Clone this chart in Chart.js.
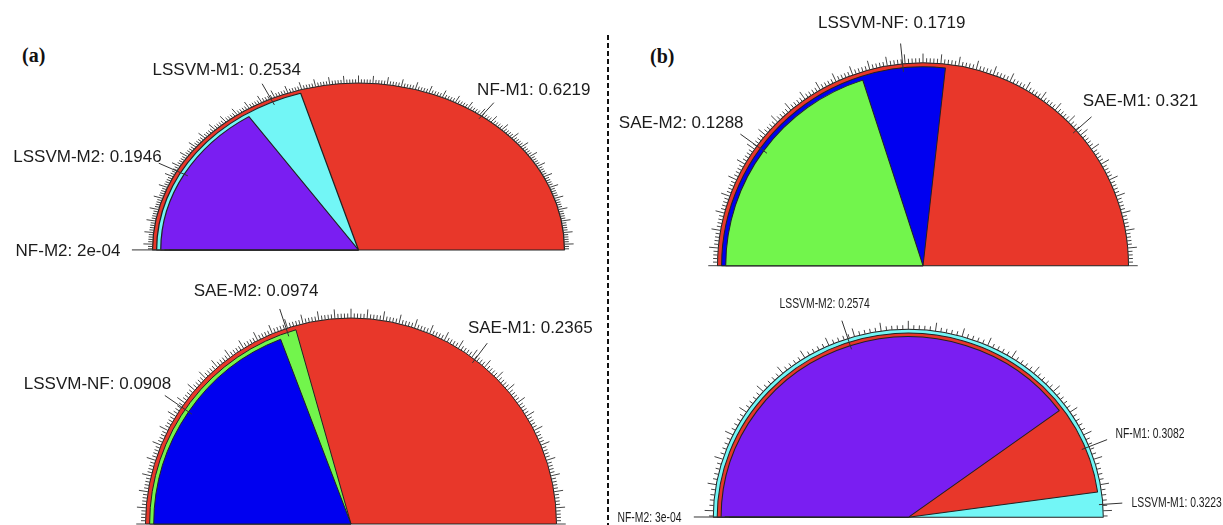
<!DOCTYPE html>
<html>
<head>
<meta charset="utf-8">
<script src="https://cdn.jsdelivr.net/npm/chart.js@4.4.0/dist/chart.umd.min.js"></script>
<style>
  html, body { margin: 0; padding: 0; background: #fff; }
  body { width: 1223px; height: 525px; position: relative; overflow: hidden; }
  canvas { position: absolute; }
  .tag { position: absolute; font: bold 20px 'Liberation Serif', 'Times New Roman', serif; color: #111; line-height: 24px; }
  .divider {
    position: absolute; left: 607px; top: 35px; width: 2px; height: 490px;
    background: repeating-linear-gradient(to bottom, #111 0 5px, transparent 5px 8px);
  }
</style>
</head>
<body>
<div class="tag" style="left:22px; top:43px">(a)</div>
<div class="tag" style="left:650px; top:44px">(b)</div>
<div class="divider"></div>
<canvas id="fanA1" width="607" height="268" style="left:0px; top:0px"></canvas>
<canvas id="fanA2" width="607" height="257" style="left:0px; top:268px"></canvas>
<canvas id="fanB1" width="611" height="285" style="left:612px; top:0px"></canvas>
<canvas id="fanB2" width="611" height="240" style="left:612px; top:285px"></canvas>

<script>
'use strict';

// ── Data ──────────────────────────────────────────────────────
// (a) upper fan
const A1_LABELS = ['NF-M1', 'LSSVM-M1', 'LSSVM-M2', 'NF-M2'];
const A1_VALUES = [0.6219, 0.2534, 0.1946, 0.0002];
// (a) lower fan
const A2_LABELS = ['SAE-M1', 'SAE-M2', 'LSSVM-NF'];
const A2_VALUES = [0.2365, 0.0974, 0.0908];
// (b) upper fan
const B1_LABELS = ['SAE-M1', 'LSSVM-NF', 'SAE-M2'];
const B1_VALUES = [0.321, 0.1719, 0.1288];
// (b) lower fan
const B2_LABELS = ['LSSVM-M1', 'NF-M1', 'LSSVM-M2', 'NF-M2'];
const B2_VALUES = [0.3223, 0.3082, 0.2574, 0.0003];

// ── Colours ───────────────────────────────────────────────────
const COL = {
  red:    '#e8372a',
  cyan:   '#72f6f6',
  purple: '#7a1ef2',
  blue:   '#0000f0',
  green:  '#72f54c',
  dark:   '#2a7a2a',
  edge:   '#222222',
  ink:    '#1c1c1c',
  tick:   '#444444',
};
const A1_COLORS = [COL.red, COL.cyan, COL.purple, COL.dark];
const A2_COLORS = [COL.red, COL.green, COL.blue];
const B1_COLORS = [COL.red, COL.blue, COL.green];
const B2_COLORS = [COL.cyan, COL.red, COL.purple, COL.dark];

const SHRINK = 0.02;   // each smaller sector is drawn 2% smaller

// ── Layout (page pixels) ──────────────────────────────────────
const PANELS = [
  { id: 'fanA1', labels: A1_LABELS, values: A1_VALUES, colors: A1_COLORS,
    box: [0, 0, 607, 268], cx: 358.5, cy: 250, rx: 206, ry: 167,
    tickStep: 0.8, font: 17, textScale: 1,
    textAt: [[533.8, 90.3], [226.7, 70.5], [87.5, 157.5], [68, 251]] },
  { id: 'fanA2', labels: A2_LABELS, values: A2_VALUES, colors: A2_COLORS,
    box: [0, 268, 607, 257], cx: 351, cy: 524, rx: 205.5, ry: 206,
    tickStep: 0.9, font: 17, textScale: 1,
    textAt: [[530.3, 327.9], [256, 291.2], [97.5, 384.2]] },
  { id: 'fanB1', labels: B1_LABELS, values: B1_VALUES, colors: B1_COLORS,
    box: [612, 0, 611, 285], cx: 923, cy: 265.7, rx: 205.5, ry: 203,
    tickStep: 1.0, font: 17, textScale: 1,
    textAt: [[1140.5, 101.7], [891.7, 23], [681.2, 123]] },
  { id: 'fanB2', labels: B2_LABELS, values: B2_VALUES, colors: B2_COLORS,
    box: [612, 285, 611, 240], cx: 908.3, cy: 517.3, rx: 195, ry: 188,
    tickStep: 1.6, font: 15, textScale: 0.69,
    textAt: [[1176.7, 502.5], [1150, 434.2], [824.7, 304.2], [649.5, 518]] },
];

// R-style number text: 0.0002 -> "2e-04"
function fmtValue(v) {
  if (v >= 0.001) return String(v);
  const [m, e] = v.toExponential(0).split('e');
  const sign = e[0] === '-' ? '-' : '+';
  return m + 'e' + sign + e.replace(/^[-+]/, '').padStart(2, '0');
}

// ── Fan decorations: radii, ellipse stretch, ticks, leaders, labels ──
function fanPlugin(p, rank, midAngle) {
  const sx = p.rx / p.ry;
  let ox = 0, oy = 0;
  const pt = (deg, r) => {
    const a = deg * Math.PI / 180;
    return [ox + p.rx * r * Math.cos(a), oy - p.ry * r * Math.sin(a)];
  };
  return {
    id: 'fanDecor',
    beforeDatasetsDraw(chart) {
      const ctx = chart.ctx;
      const first = chart.getDatasetMeta(0).data[0];
      ox = first.x; oy = first.y;
      // every sector is a full wedge from the centre, shrinking with its rank
      chart.data.datasets.forEach((ds, i) => {
        chart.getDatasetMeta(i).data.forEach(arc => {
          arc.innerRadius = 0;
          arc.outerRadius = p.ry * (1 - SHRINK * ds.rank);
        });
      });
      ctx.save();
      ctx.translate(ox, oy);
      ctx.scale(sx, 1);
      ctx.translate(-ox, -oy);
    },
    afterDatasetsDraw(chart) {
      const ctx = chart.ctx;
      ctx.restore();

      // ticks round the rim, every fifth one longer
      ctx.save();
      ctx.strokeStyle = COL.tick;
      ctx.lineWidth = 1;
      const n = Math.floor(90 / p.tickStep);
      for (let k = -n; k <= n; k++) {
        const a = 90 + k * p.tickStep;
        const [x1, y1] = pt(a, 1.0);
        const [x2, y2] = pt(a, k % 5 === 0 ? 1.045 : 1.022);
        ctx.beginPath();
        ctx.moveTo(x1, y1);
        ctx.lineTo(x2, y2);
        ctx.stroke();
      }

      // leader lines at the middle of each visible part
      ctx.strokeStyle = '#333';
      p.values.forEach((v, i) => {
        const [x1, y1] = pt(midAngle[i], 1 - SHRINK * rank[i] - 0.02);
        const [x2, y2] = pt(midAngle[i], 1.1);
        ctx.beginPath();
        ctx.moveTo(x1, y1);
        ctx.lineTo(x2, y2);
        ctx.stroke();
      });

      // labels
      ctx.fillStyle = COL.ink;
      ctx.font = `${p.font}px "Liberation Sans", Arial, sans-serif`;
      ctx.textAlign = 'center';
      ctx.textBaseline = 'middle';
      p.values.forEach((v, i) => {
        const tx = p.textAt[i][0] - p.box[0];
        const ty = p.textAt[i][1] - p.box[1];
        ctx.save();
        ctx.translate(tx, ty);
        ctx.scale(p.textScale, 1);
        ctx.fillText(`${p.labels[i]}: ${fmtValue(v)}`, 0, 0);
        ctx.restore();
      });
      ctx.restore();
    },
  };
}

function buildFan(p) {
  const [left, top, w, h] = p.box;
  const vmax = Math.max(...p.values);
  const span = p.values.map(v => v / vmax * 180);

  // rank 0 = largest sector (full radius)
  const order = p.values.map((_, i) => i).sort((a, b) => p.values[b] - p.values[a]);
  const rank = [];
  order.forEach((idx, r) => { rank[idx] = r; });

  // sectors start at the left end; the visible part of each ends where the next smaller begins
  const midAngle = p.values.map((_, i) => {
    const next = order[rank[i] + 1];
    const from = 180 - span[i];
    const to = next === undefined ? 180 : 180 - span[next];
    return (from + to) / 2;
  });

  // smallest first so Chart.js paints it last (on top)
  const datasets = order.slice().reverse().map(i => ({
    label: p.labels[i],
    data: [p.values[i]],
    backgroundColor: p.colors[i],
    borderColor: COL.edge,
    borderWidth: 1,
    rotation: -90,
    circumference: span[i],
    clip: false,
    rank: rank[i],
  }));

  // padding that puts the fan centre where it belongs
  const lcx = p.cx - left, lcy = p.cy - top;
  const dx = 2 * lcx - w;
  const dy = 2 * lcy - p.ry - h;
  const padding = {
    left: Math.max(dx, 0), right: Math.max(-dx, 0),
    top: Math.max(dy, 0), bottom: Math.max(-dy, 0),
  };

  return new Chart(document.getElementById(p.id), {
    type: 'doughnut',
    data: { labels: [''], datasets },
    options: {
      responsive: false,
      animation: false,
      radius: p.ry,
      cutout: 0,
      rotation: -90,
      circumference: 180,
      layout: { padding },
      plugins: { legend: { display: false }, tooltip: { enabled: false } },
    },
    plugins: [fanPlugin(p, rank, midAngle)],
  });
}

PANELS.forEach(buildFan);
</script>
</body>
</html>
